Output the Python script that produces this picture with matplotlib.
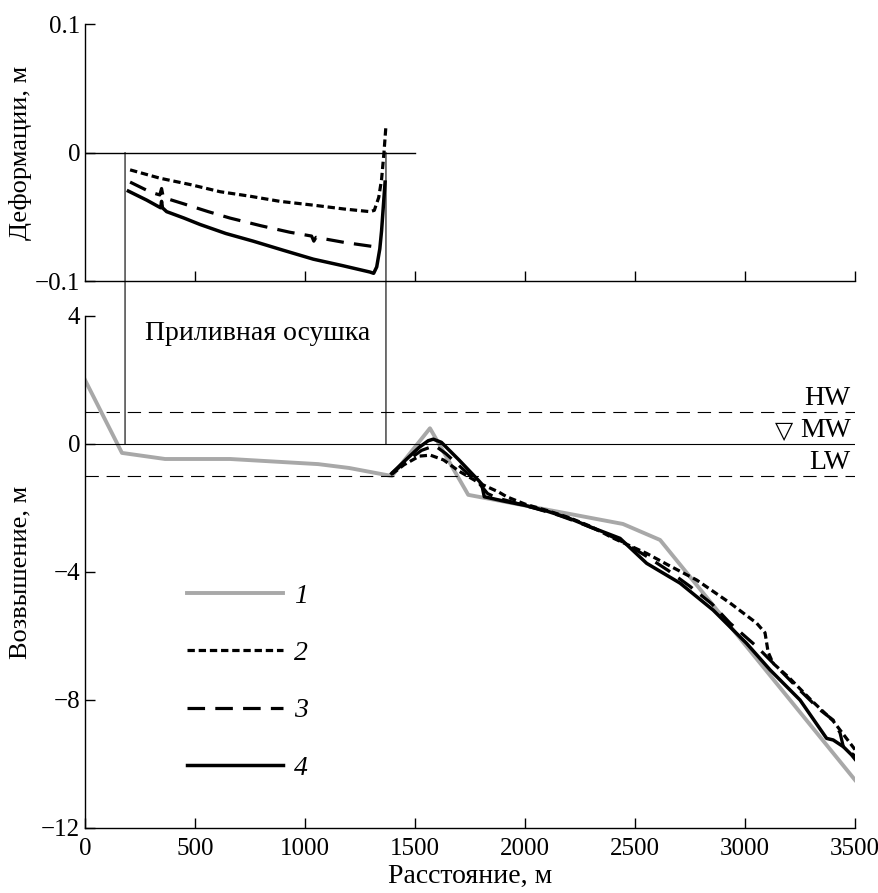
import matplotlib
matplotlib.use("Agg")
import matplotlib.pyplot as plt
from matplotlib.patches import ConnectionPatch

plt.rcParams['font.family'] = ['Liberation Serif', 'DejaVu Serif']
plt.rcParams['font.size'] = 20
plt.rcParams['axes.unicode_minus'] = True

# --- top panel: deformation (m) ---
def2_x = [205, 341, 480, 614, 750, 886, 1040, 1180, 1295, 1315, 1335, 1348, 1359, 1368]
def2_y = [-0.0135, -0.020, -0.025, -0.0305, -0.034, -0.038, -0.041, -0.044, -0.046, -0.045, -0.035, -0.021, 0.0, 0.021]

def3_x = [205, 300, 340, 348, 356, 450, 560, 659, 800, 930, 1030, 1040, 1050, 1180, 1303, 1320]
def3_y = [-0.023, -0.031, -0.033, -0.028, -0.035, -0.040, -0.046, -0.051, -0.057, -0.062, -0.065, -0.069, -0.066, -0.070, -0.073, -0.073]

def4_x = [197, 280, 333, 344, 348, 352, 371, 450, 523, 640, 765, 900, 1038, 1170, 1295, 1312, 1326, 1340, 1348, 1356, 1364]
def4_y = [-0.030, -0.037, -0.042, -0.043, -0.038, -0.043, -0.046, -0.051, -0.056, -0.063, -0.069, -0.076, -0.083, -0.088, -0.093, -0.094, -0.089, -0.075, -0.061, -0.042, -0.023]

# --- bottom panel: elevation (m) ---
p1_x = [0, 168, 364, 660, 1060, 1200, 1370, 1395, 1568, 1742, 2445, 2614, 3500]
p1_y = [2.0, -0.28, -0.47, -0.47, -0.63, -0.75, -0.97, -1.0, 0.49, -1.59, -2.5, -3.0, -10.5]

p2_x = [1394, 1450, 1520, 1570, 1630, 1700, 1800, 1880, 1917, 2000, 2100, 2200, 2300, 2400, 2553, 2650, 2780, 2932, 3053, 3091, 3105, 3127, 3200, 3300, 3400, 3450, 3500]
p2_y = [-0.95, -0.65, -0.38, -0.35, -0.5, -0.85, -1.25, -1.5, -1.65, -1.88, -2.08, -2.3, -2.58, -2.94, -3.42, -3.78, -4.25, -4.97, -5.6, -5.9, -6.5, -6.85, -7.3, -8.0, -8.65, -9.1, -9.55]

p3_x = [1394, 1450, 1530, 1590, 1640, 1720, 1800, 1830, 1870, 1950, 2050, 2150, 2250, 2350, 2450, 2550, 2650, 2750, 2850, 2932, 3053, 3150, 3250, 3341, 3401, 3432, 3447, 3485, 3500]
p3_y = [-0.92, -0.6, -0.2, -0.05, -0.3, -0.8, -1.3, -1.55, -1.68, -1.83, -2.02, -2.22, -2.47, -2.75, -3.08, -3.5, -3.95, -4.45, -5.0, -5.6, -6.33, -7.0, -7.7, -8.31, -8.63, -9.03, -9.46, -9.67, -9.75]

p4_x = [1394, 1450, 1520, 1560, 1583, 1620, 1700, 1790, 1803, 1815, 1900, 2000, 2100, 2200, 2300, 2432, 2553, 2705, 2855, 3007, 3114, 3250, 3371, 3401, 3447, 3485, 3500]
p4_y = [-0.92, -0.55, -0.1, 0.1, 0.15, 0.05, -0.5, -1.15, -1.25, -1.65, -1.78, -1.92, -2.1, -2.32, -2.6, -2.95, -3.73, -4.35, -5.19, -6.23, -7.06, -8.0, -9.2, -9.25, -9.46, -9.72, -9.85]

tide_x = [182, 1368]
levels = {'HW': 1.0, 'MW': 0.0, 'LW': -1.0}

gray = '#a8a8a8'
s2 = dict(color='black', lw=2.3, dashes=(2.3, 1.2))
s3 = dict(color='black', lw=2.3, dashes=(5.5, 3.2))
s4 = dict(color='black', lw=2.5)

fig = plt.figure(figsize=(8.79, 8.93), dpi=100)
ax1 = fig.add_axes([0.0967, 0.6853, 0.876, 0.2878])
ax2 = fig.add_axes([0.0967, 0.0728, 0.876, 0.5734])

for ax in (ax1, ax2):
    ax.spines['top'].set_visible(False)
    ax.spines['right'].set_visible(False)
    ax.spines['left'].set_linewidth(1.0)
    ax.spines['bottom'].set_linewidth(1.0)
    ax.tick_params(direction='in', length=7, width=1.0, labelsize=18)
    ax.set_xlim(0, 3500)
ax2.tick_params(axis='x', pad=7)

# top panel
ax1.plot(def2_x, def2_y, **s2)
ax1.plot(def3_x, def3_y, **s3)
ax1.plot(def4_x, def4_y, **s4)
ax1.axhline(0, xmin=0, xmax=1500 / 3500, color='black', lw=1.0)
ax1.set_ylim(-0.1, 0.1)
ax1.set_yticks([-0.1, 0, 0.1])
ax1.set_yticklabels(['\u22120.1', '0', '0.1'])
ax1.set_xticks([500, 1000, 1500, 2000, 2500, 3000, 3500])
ax1.set_xticklabels([])
ax1.set_ylabel('Деформации, м', fontsize=19)
ax1.yaxis.set_label_coords(-0.069, 0.5)

# bottom panel
ax2.plot(p1_x, p1_y, color=gray, lw=2.8, label='1')
ax2.plot(p2_x, p2_y, label='2', **s2)
ax2.plot(p3_x, p3_y, label='3', **s3)
ax2.plot(p4_x, p4_y, label='4', **s4)
ax2.axhline(levels['HW'], color='black', lw=0.8, dashes=(12, 7))
ax2.axhline(levels['LW'], color='black', lw=0.8, dashes=(12, 7))
ax2.axhline(levels['MW'], color='black', lw=0.8)
ax2.set_ylim(-12, 4)
ax2.set_yticks([-12, -8, -4, 0, 4])
ax2.set_xticks([0, 500, 1000, 1500, 2000, 2500, 3000, 3500])
ax2.set_xlabel('Расстояние, м', fontsize=20, labelpad=3)
ax2.set_ylabel('Возвышение, м', fontsize=19)
ax2.yaxis.set_label_coords(-0.069, 0.5)

ax2.text(3480, levels['HW'] + 0.02, 'HW', ha='right', va='bottom', fontsize=20)
ax2.text(3480, levels['MW'] + 0.02, 'MW', ha='right', va='bottom', fontsize=20)
ax2.text(3175, levels['MW'] + 0.02, '\u25bd', ha='center', va='bottom', fontsize=17,
         family=['DejaVu Sans'])
ax2.text(3480, levels['LW'] + 0.02, 'LW', ha='right', va='bottom', fontsize=20)
ax2.text(786, 3.45, 'Приливная осушка', ha='center', va='center', fontsize=20)

leg = ax2.legend(loc='upper left', bbox_to_anchor=(0.1, 0.527), frameon=False,
                 handlelength=3.45, handletextpad=0.4, labelspacing=1.15,
                 prop={'style': 'italic', 'size': 20})

# vertical lines marking tidal flat, spanning both panels
for x in tide_x:
    con = ConnectionPatch(xyA=(x, 0), coordsA=ax1.transData,
                          xyB=(x, 0), coordsB=ax2.transData,
                          color='black', lw=0.8)
    fig.add_artist(con)

fig.savefig('out.png', dpi=100)
